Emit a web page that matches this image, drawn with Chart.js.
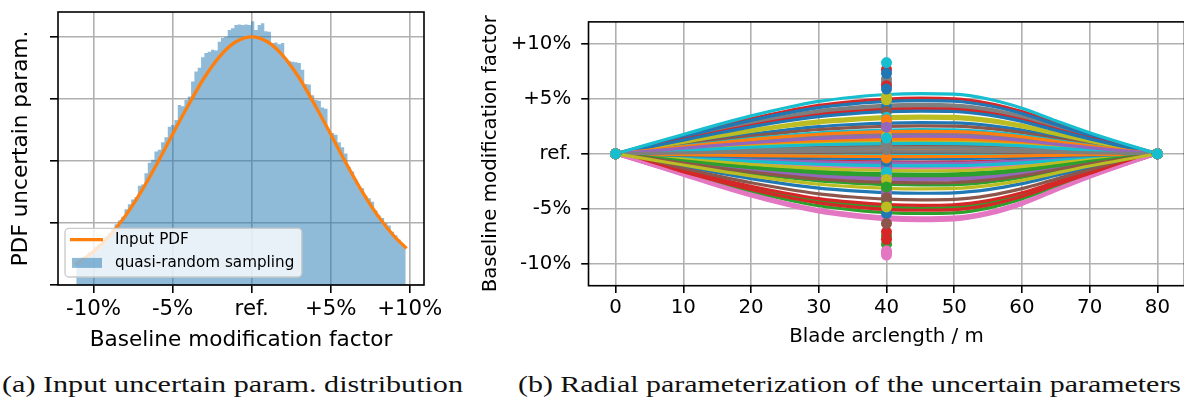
<!DOCTYPE html>
<html>
<head>
<meta charset="utf-8">
<script src="https://cdn.jsdelivr.net/npm/chart.js@4.4.1/dist/chart.umd.min.js"></script>
<style>
  html, body { margin: 0; padding: 0; background: #fff; width: 1184px; height: 403px; overflow: hidden; }
  .panel { position: absolute; top: 0; }
  .cap { position: absolute; font-family: 'Liberation Serif', serif; font-size: 24px; line-height: 24px;
         font-weight: normal; white-space: nowrap; transform-origin: 0 0; color: #111; }
</style>
</head>
<body>
<div class="panel" style="left:0"><canvas id="pdfChart" width="450" height="355"></canvas></div>
<div class="panel" style="left:470px"><canvas id="bladeChart" width="720" height="355"></canvas></div>
<div class="cap" id="capA" style="left:2px;top:372px">(a) Input uncertain param. distribution</div>
<div class="cap" id="capB" style="left:518px;top:372px">(b) Radial parameterization of the uncertain parameters</div>
<script>
// ===== DATA: (a) input distribution =====
const pctTicks = [-10, -5, 0, 5, 10];
const pctLabels = ['-10%', '-5%', 'ref.', '+5%', '+10%'];
const pdfTicks = [0, 1, 2, 3, 4];

const histStart = -11.2;     // left edge of first bin (%)
const histBinWidth = 0.2105; // bin width (%)
const histCounts = [
  0.38, 0.40, 0.45, 0.47, 0.53, 0.56, 0.62, 0.66, 0.73, 0.78,
  0.84, 0.90, 0.98, 1.04, 1.10, 1.22, 1.30, 1.38, 1.42, 1.60,
  1.62, 1.80, 1.97, 2.02, 2.15, 2.18, 2.30, 2.38, 2.55, 2.58,
  2.66, 2.90, 2.88, 2.98, 3.04, 3.28, 3.44, 3.50, 3.67, 3.74,
  3.76, 3.79, 3.78, 3.92, 3.98, 4.00, 4.11, 4.14, 4.19, 4.20,
  4.19, 4.20, 4.19, 4.25, 4.11, 4.19, 4.22, 4.09, 4.08, 3.90,
  3.91, 3.88, 3.90, 3.64, 3.61, 3.60, 3.59, 3.58, 3.47, 3.24,
  3.23, 3.06, 2.98, 2.97, 2.86, 2.84, 2.47, 2.45, 2.42, 2.30,
  2.22, 2.12, 1.90, 1.83, 1.70, 1.58, 1.56, 1.44, 1.40, 1.34,
  1.20, 1.12, 1.08, 1.00, 0.96, 0.86, 0.80, 0.73, 0.66, 0.60
];

const pdfX = [-11.2, -11, -10, -9, -8, -7, -6, -5, -4, -3, -2, -1, 0, 1, 2, 3, 4, 5, 6, 7, 8, 9, 9.8];
const pdfY = [0.33, 0.36, 0.54, 0.79, 1.11, 1.50, 1.95, 2.43, 2.90, 3.34, 3.69, 3.92, 4.00,
              3.92, 3.69, 3.34, 2.90, 2.43, 1.95, 1.50, 1.11, 0.79, 0.59];

// ===== DATA: (b) radial parameterization =====
const bladeTicks = [0, 10, 20, 30, 40, 50, 60, 70, 80];
const factorTicks = [-10, -5, 0, 5, 10];
const factorLabels = ['-10%', '-5%', 'ref.', '+5%', '+10%'];

const bladeX = [0, 5, 10, 15, 20, 25, 30, 35, 40, 45, 50, 55, 60, 65, 70, 75, 80];
// curve height relative to the control value at 40 m
const bladeShape = [0, 0.106, 0.211, 0.317, 0.416, 0.502, 0.574, 0.620, 0.650, 0.660,
                    0.653, 0.600, 0.500, 0.363, 0.231, 0.112, 0];
const ctrlX = [0, 40, 80];
// control value (%) at 40 m, in plotting order
const ctrlValues = [
   4.30,  2.19, -2.79,  7.67,  2.87,  3.85,  0.53,  6.80,  5.21,  3.32,
  -5.44,  1.96, -4.30, -1.13, -1.28,  1.13, -1.96,  6.49,  4.91, -0.08,
   7.32,  0.76, -7.47,  6.19, -3.32,  0.23, -8.98,  2.57,  1.59, -1.66,
   5.89,  3.10, -8.23, -7.10, -3.62, -6.34, -8.83,  0.83, -2.34,  1.43,
  -0.68, -0.38, -3.02, -7.78,  2.42, -4.00, -9.21,  0.38, -4.83,  8.30
];

const tab10 = ['#1f77b4', '#ff7f0e', '#2ca02c', '#d62728', '#9467bd',
               '#8c564b', '#e377c2', '#7f7f7f', '#bcbd22', '#17becf'];

Chart.defaults.font.family = "'DejaVu Sans', sans-serif";
Chart.defaults.color = '#000';

// ===== PLUGINS =====
const framePlugin = {
  id: 'frame',
  afterDraw(chart) {
    const { ctx, chartArea: a } = chart;
    ctx.save();
    ctx.strokeStyle = '#000';
    ctx.lineWidth = 1.6;
    ctx.strokeRect(a.left, a.top, a.right - a.left, a.bottom - a.top);
    ctx.restore();
  }
};

const pdfLegend = {
  id: 'pdfLegend',
  afterDraw(chart) {
    const { ctx, chartArea: a } = chart;
    const [line, hist] = chart.data.datasets;
    const w = 236.7, h = 48.6, r = 4;
    const x = a.left + 7, y = a.bottom - 8 - h;
    ctx.save();
    ctx.beginPath();
    ctx.moveTo(x + r, y);
    ctx.arcTo(x + w, y, x + w, y + h, r);
    ctx.arcTo(x + w, y + h, x, y + h, r);
    ctx.arcTo(x, y + h, x, y, r);
    ctx.arcTo(x, y, x + w, y, r);
    ctx.closePath();
    ctx.fillStyle = 'rgba(255,255,255,0.8)';
    ctx.fill();
    ctx.strokeStyle = '#cccccc';
    ctx.lineWidth = 1.4;
    ctx.stroke();

    ctx.strokeStyle = line.borderColor;
    ctx.lineWidth = line.borderWidth;
    ctx.beginPath();
    ctx.moveTo(x + 5, y + 11.3);
    ctx.lineTo(x + 38, y + 11.3);
    ctx.stroke();
    ctx.fillStyle = hist.backgroundColor;
    ctx.fillRect(x + 7, y + 29.5, 30, 10);

    ctx.fillStyle = '#000';
    ctx.font = "15.2px 'DejaVu Sans'";
    ctx.textBaseline = 'middle';
    ctx.fillText(line.label, x + 50, y + 12);
    ctx.fillText(hist.label, x + 50, y + 34.4);
    ctx.restore();
  }
};

const gridStyle = {
  color: '#b0b0b0', lineWidth: 1.6,
  tickColor: '#000', tickWidth: 1.6, tickLength: 8
};

// ===== (a) HISTOGRAM + PDF =====
new Chart(document.getElementById('pdfChart'), {
  type: 'line',
  data: {
    datasets: [{
      label: 'Input PDF',
      data: pdfX.map((x, i) => ({ x, y: pdfY[i] })),
      borderColor: '#ff7f0e',
      borderWidth: 3.3,
      pointRadius: 0,
      cubicInterpolationMode: 'monotone',
      order: 0
    }, {
      label: 'quasi-random sampling',
      data: histCounts.map((v, i) => ({ x: histStart + histBinWidth * (i + 0.5), y: v })),
      stepped: 'middle',
      fill: 'origin',
      backgroundColor: 'rgba(31,119,180,0.5)',
      borderColor: 'rgba(0,0,0,0)',
      borderWidth: 0,
      pointRadius: 0,
      order: 1
    }]
  },
  options: {
    responsive: false,
    animation: false,
    events: [],
    layout: { padding: { left: 0, top: 12, right: 26, bottom: 0 } },
    plugins: { legend: { display: false }, tooltip: { enabled: false } },
    scales: {
      x: {
        type: 'linear', min: -12.25, max: 10.9,
        afterBuildTicks: axis => { axis.ticks = pctTicks.map(v => ({ value: v })); },
        afterFit: axis => { axis.height = 70; },
        ticks: {
          font: { size: 21.3 }, padding: 4,
          callback: v => pctLabels[pctTicks.indexOf(v)]
        },
        grid: gridStyle,
        border: { display: false },
        title: { display: true, text: 'Baseline modification factor', font: { size: 21.6 },
                 padding: { top: 0, bottom: 2 } }
      },
      y: {
        min: 0, max: 4.4,
        afterBuildTicks: axis => { axis.ticks = pdfTicks.map(v => ({ value: v })); },
        afterFit: axis => { axis.width = 58; },
        ticks: { display: false },
        grid: gridStyle,
        border: { display: false },
        title: { display: true, text: 'PDF uncertain param.', font: { size: 21.6 },
                 padding: { top: 8.7, bottom: 0 } }
      }
    }
  },
  plugins: [framePlugin, pdfLegend]
});

// ===== (b) BLADE CURVES =====
const N = ctrlValues.length;
const curveSets = ctrlValues.map((c, k) => ({
  data: bladeX.map((x, i) => ({ x, y: c * bladeShape[i] })),
  borderColor: tab10[k % 10],
  borderWidth: 3.2,
  pointRadius: 0,
  cubicInterpolationMode: 'monotone',
  order: N - k
}));

const markerPts = [], markerColors = [];
ctrlValues.forEach((c, k) => {
  ctrlX.forEach(x => {
    markerPts.push({ x, y: x === 40 ? c : 0 });
    markerColors.push(tab10[k % 10]);
  });
});

new Chart(document.getElementById('bladeChart'), {
  type: 'line',
  data: {
    datasets: [...curveSets, {
      data: markerPts,
      showLine: false,
      pointRadius: 5.5,
      pointBorderWidth: 0,
      pointBackgroundColor: markerColors,
      pointBorderColor: markerColors,
      order: 0
    }]
  },
  options: {
    responsive: false,
    animation: false,
    events: [],
    layout: { padding: { left: 0, top: 15.7, right: 5, bottom: 0 } },
    plugins: { legend: { display: false }, tooltip: { enabled: false } },
    scales: {
      x: {
        type: 'linear', min: -4, max: 84,
        afterBuildTicks: axis => { axis.ticks = bladeTicks.map(v => ({ value: v })); },
        afterFit: axis => { axis.height = 69.3; },
        ticks: { font: { size: 19.8 }, padding: 3.4 },
        grid: { ...gridStyle, tickLength: 7.3 },
        border: { display: false },
        title: { display: true, text: 'Blade arclength / m', font: { size: 19.8 },
                 padding: { top: 0, bottom: 6.3 } }
      },
      y: {
        min: -12, max: 12,
        afterBuildTicks: axis => { axis.ticks = factorTicks.map(v => ({ value: v })); },
        afterFit: axis => { axis.width = 118.5; },
        ticks: {
          font: { size: 19.8 }, padding: 10,
          callback: v => factorLabels[factorTicks.indexOf(v)]
        },
        grid: { ...gridStyle, tickLength: 7.3 },
        border: { display: false },
        title: { display: true, text: 'Baseline modification factor', font: { size: 19.8 },
                 padding: { top: 8.5, bottom: 0 } }
      }
    }
  },
  plugins: [framePlugin]
});

// ===== CAPTIONS: stretch to the reference widths =====
function fitCaption(id, width) {
  const el = document.getElementById(id);
  const w = el.getBoundingClientRect().width;
  el.style.transform = `scaleX(${width / w})`;
}
fitCaption('capA', 461);
fitCaption('capB', 663);
</script>
</body>
</html>
